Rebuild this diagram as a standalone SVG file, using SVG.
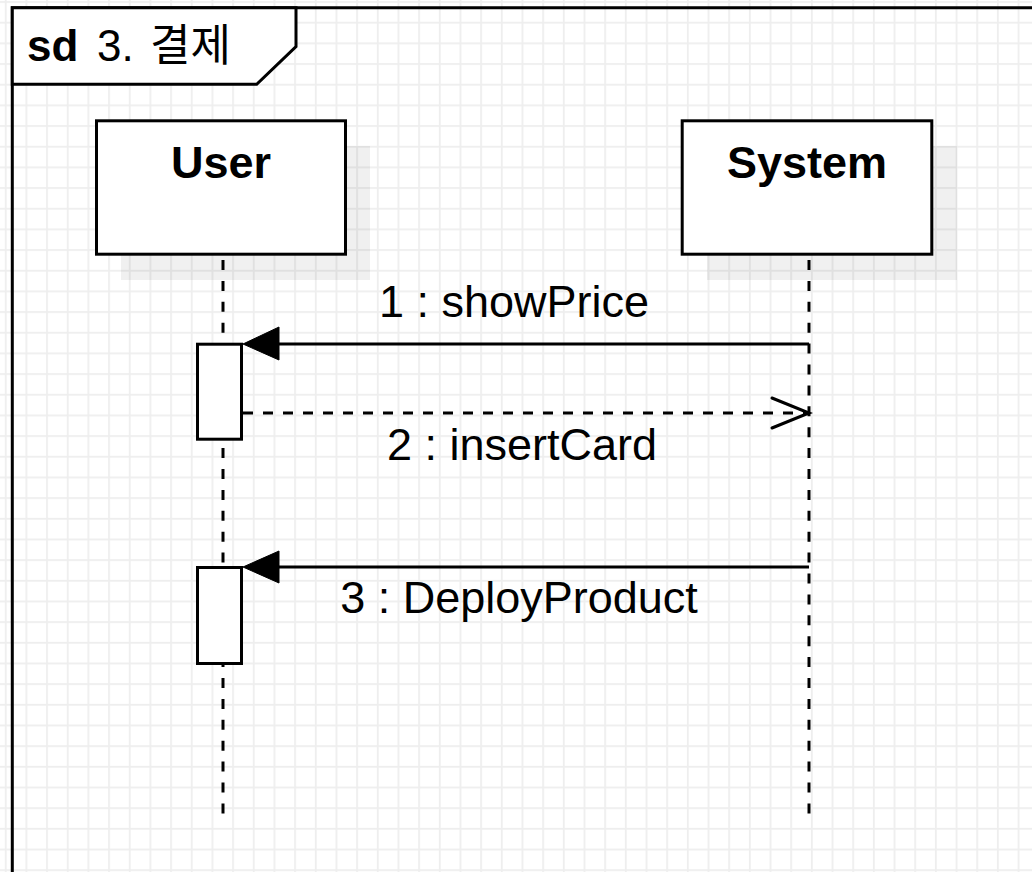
<svg xmlns="http://www.w3.org/2000/svg" width="1032" height="872" viewBox="0 0 1032 872">
  <style>
    .box { fill: #ffffff; stroke: #000000; stroke-width: 3; }
    .shadow { fill: #000000; fill-opacity: 0.06; stroke: none; }
    .title { font-family: "Liberation Sans", Arial, sans-serif; font-size: 45px; font-weight: bold; fill: #000000; text-anchor: middle; }
    .lbl { font-family: "Liberation Sans", Arial, sans-serif; font-size: 45px; fill: #000000; text-anchor: middle; }
    .life { fill: none; stroke: #000000; stroke-width: 3; stroke-dasharray: 10 10.9; }
    .msg { fill: none; stroke: #000000; stroke-width: 3; }
    .reply { fill: none; stroke: #000000; stroke-width: 3; stroke-dasharray: 10 10; }
    .head { fill: #000000; stroke: #000000; stroke-width: 1; }
    .open { fill: none; stroke: #000000; stroke-width: 3; stroke-linecap: round; }
  </style>
  <defs>
    <pattern id="grid" x="4.8" y="1.1" width="20.67" height="20.67" patternUnits="userSpaceOnUse">
      <rect x="0" y="0" width="1.8" height="20.67" fill="#eeeeee"/>
      <rect x="0" y="0" width="20.67" height="1.8" fill="#eeeeee"/>
    </pattern>
  </defs>

  <rect x="0" y="0" width="1032" height="872" fill="#ffffff"/>
  <rect x="0" y="0" width="1032" height="872" fill="url(#grid)"/>

  <g id="frame">
    <path d="M12.3 880 V7.7 H1045" fill="none" stroke="#000000" stroke-width="3"/>
    <path d="M12.3 7.7 H296 V46.7 L256.7 84.3 H12.3 Z" fill="#ffffff" stroke="#000000" stroke-width="3"/>
    <text x="27" y="60.5" font-family="'Liberation Sans', 'Noto Sans CJK KR', Arial, sans-serif" font-size="44px" fill="#000000"><tspan font-weight="bold">sd</tspan><tspan x="97">3. </tspan><tspan x="150">결제</tspan></text>
  </g>

  <g id="node-user">
    <rect class="shadow" x="121" y="146" width="249" height="134"/>
    <rect class="box" x="96.5" y="120.8" width="249" height="133.4"/>
    <text class="title" x="221" y="178.3">User</text>
  </g>

  <g id="node-system">
    <rect class="shadow" x="707" y="146" width="250" height="134"/>
    <rect class="box" x="682.2" y="120.8" width="249.6" height="133.4"/>
    <text class="title" x="807" y="178.3">System</text>
  </g>

  <g id="lifelines">
    <path class="life" d="M223 260 V815"/>
    <path class="life" d="M809 260 V815"/>
  </g>

  <g id="activation-1">
    <rect class="box" x="197.5" y="344.2" width="44" height="95"/>
  </g>
  <g id="activation-2">
    <rect class="box" x="197.5" y="567.5" width="44" height="96"/>
  </g>

  <g id="connectors">
    <path class="msg" d="M809 344 H275"/>
    <polygon class="head" points="243,344 279,327 279,360"/>
    <path class="reply" d="M243 413 H806"/>
    <polyline class="open" points="772,398 809,413 772,428"/>
    <path class="msg" d="M809 567 H275"/>
    <polygon class="head" points="243,567 279,551 279,583"/>
  </g>

  <g id="labels">
    <text class="lbl" x="514" y="317.3">1 : showPrice</text>
    <text class="lbl" x="522" y="460">2 : insertCard</text>
    <text class="lbl" x="519" y="613.3">3 : DeployProduct</text>
  </g>
</svg>
